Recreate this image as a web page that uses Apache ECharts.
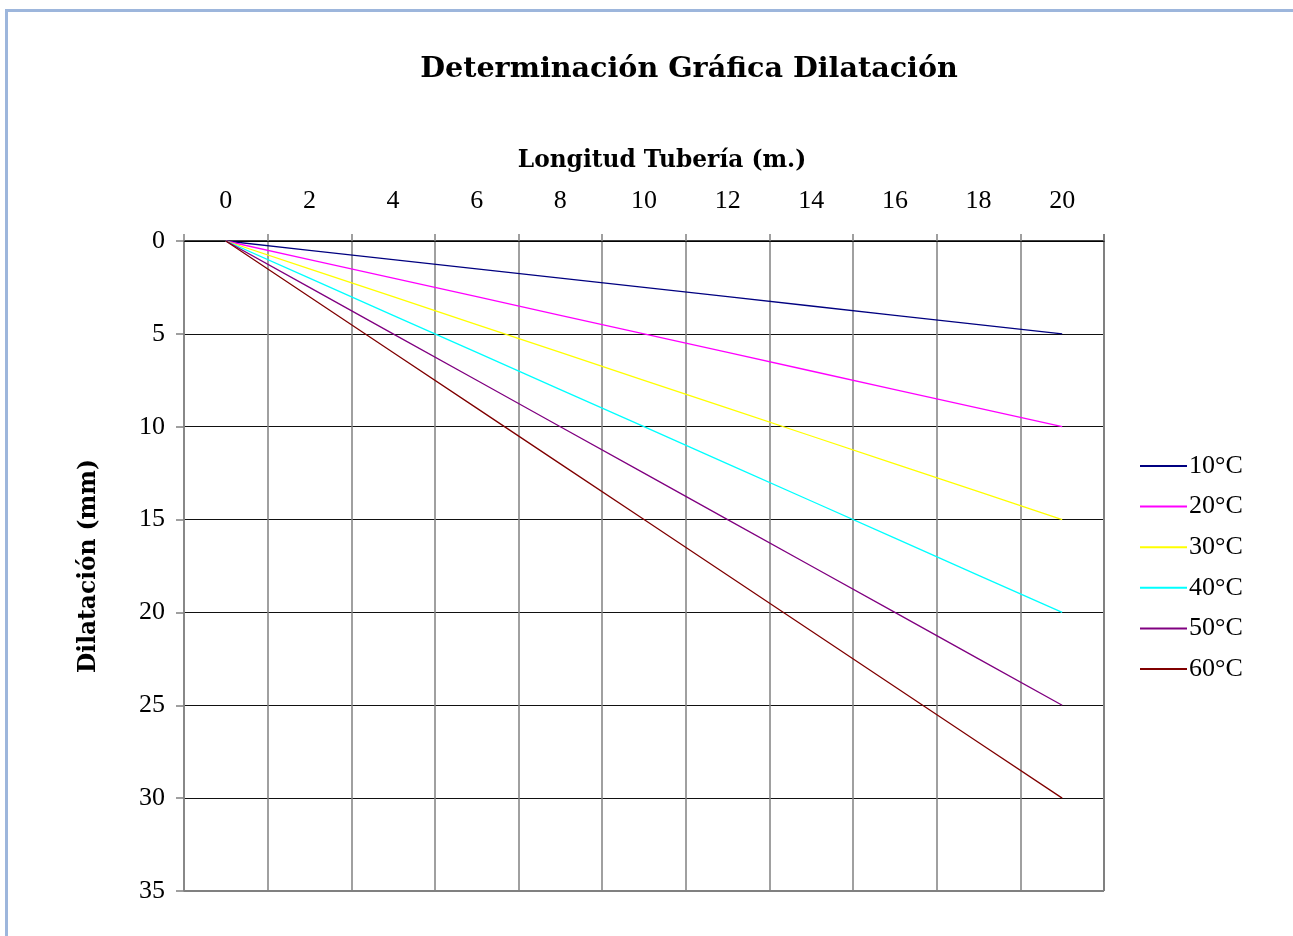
<!DOCTYPE html>
<html>
<head>
<meta charset="utf-8">
<script src="https://cdn.jsdelivr.net/npm/echarts@6/dist/echarts.min.js"></script>
<style>
html,body{margin:0;padding:0;background:#fff;overflow:hidden;}
#frame{position:absolute;left:5px;top:9px;width:1400px;height:1000px;border:3px solid #9db6dc;box-sizing:border-box;}
#chart{position:absolute;left:0;top:0;width:1293px;height:936px;}
</style>
</head>
<body>
<div id="frame"></div>
<div id="chart"></div>
<script>
const categories = ['0','2','4','6','8','10','12','14','16','18','20'];
const seriesNames = ['10°C','20°C','30°C','40°C','50°C','60°C'];
const s10 = [0,0.5,1,1.5,2,2.5,3,3.5,4,4.5,5];
const s20 = [0,1,2,3,4,5,6,7,8,9,10];
const s30 = [0,1.5,3,4.5,6,7.5,9,10.5,12,13.5,15];
const s40 = [0,2,4,6,8,10,12,14,16,18,20];
const s50 = [0,2.5,5,7.5,10,12.5,15,17.5,20,22.5,25];
const s60 = [0,3,6,9,12,15,18,21,24,27,30];
const seriesData = [s10,s20,s30,s40,s50,s60];
const colors = ['#000080','#ff00ff','#ffff00','#00ffff','#800080','#800000'];

const chart = echarts.init(document.getElementById('chart'));
const serif = '"DejaVu Serif", serif';
const tickFont = '"Liberation Serif", serif';
chart.setOption({
  animation:false,
  backgroundColor:'transparent',
  title:[
    {text:'Determinación Gráfica Dilatación', left:684, top:50, textAlign:'center',
     textStyle:{fontFamily:serif, fontWeight:'bold', fontSize:28.6, color:'#000'}},
    {text:'Longitud Tubería (m.)', left:657, top:144, textAlign:'center',
     textStyle:{fontFamily:serif, fontWeight:'bold', fontSize:23.3, color:'#000'}}
  ],
  legend:{
    orient:'vertical', left:1135, top:448,
    itemWidth:47, itemHeight:2, itemGap:14.6,
    icon:'rect',
    data:seriesNames.map((n,i)=>({name:n, itemStyle:{color:colors[i]}})),
    textStyle:{fontFamily:tickFont, fontSize:26, color:'#000', padding:[0,0,0,-3], lineHeight:24}
  },
  grid:{left:184, right:189, top:241, bottom:45, containLabel:false},
  xAxis:{
    type:'category', position:'top', data:categories, boundaryGap:true,
    axisLine:{show:true, lineStyle:{color:'#000', width:1.5}},
    axisTick:{show:true, length:7, lineStyle:{color:'#808080', width:1.5}},
    axisLabel:{fontFamily:tickFont, fontSize:26, color:'#000', margin:27},
    splitLine:{show:true, lineStyle:{color:'#808080', width:1.5}}
  },
  yAxis:{
    type:'value', inverse:true, min:0, max:35, interval:5,
    name:'Dilatación (mm)', nameLocation:'middle', nameGap:84,
    nameTextStyle:{fontFamily:serif, fontWeight:'bold', fontSize:23.3, color:'#000'},
    axisLine:{show:true, lineStyle:{color:'#808080', width:1.5}},
    axisTick:{show:true, length:8, lineStyle:{color:'#808080', width:1.5}},
    axisLabel:{fontFamily:tickFont, fontSize:26, color:'#000', margin:19},
    splitLine:{show:true, lineStyle:{color:'#111', width:1.2}}
  },
  series: seriesData.map((d,i)=>({
    name:seriesNames[i], type:'line', data:d, symbol:'none',
    lineStyle:{color:colors[i], width:1.3}, itemStyle:{color:colors[i]}
  }))
});
chart.setOption({
  graphic:[
    {type:'line', shape:{x1:184,y1:891,x2:1104,y2:891}, style:{stroke:'#808080', lineWidth:2}},
    {type:'line', shape:{x1:1104,y1:234,x2:1104,y2:891}, style:{stroke:'#808080', lineWidth:2}}
  ]
});
</script>
</body>
</html>
